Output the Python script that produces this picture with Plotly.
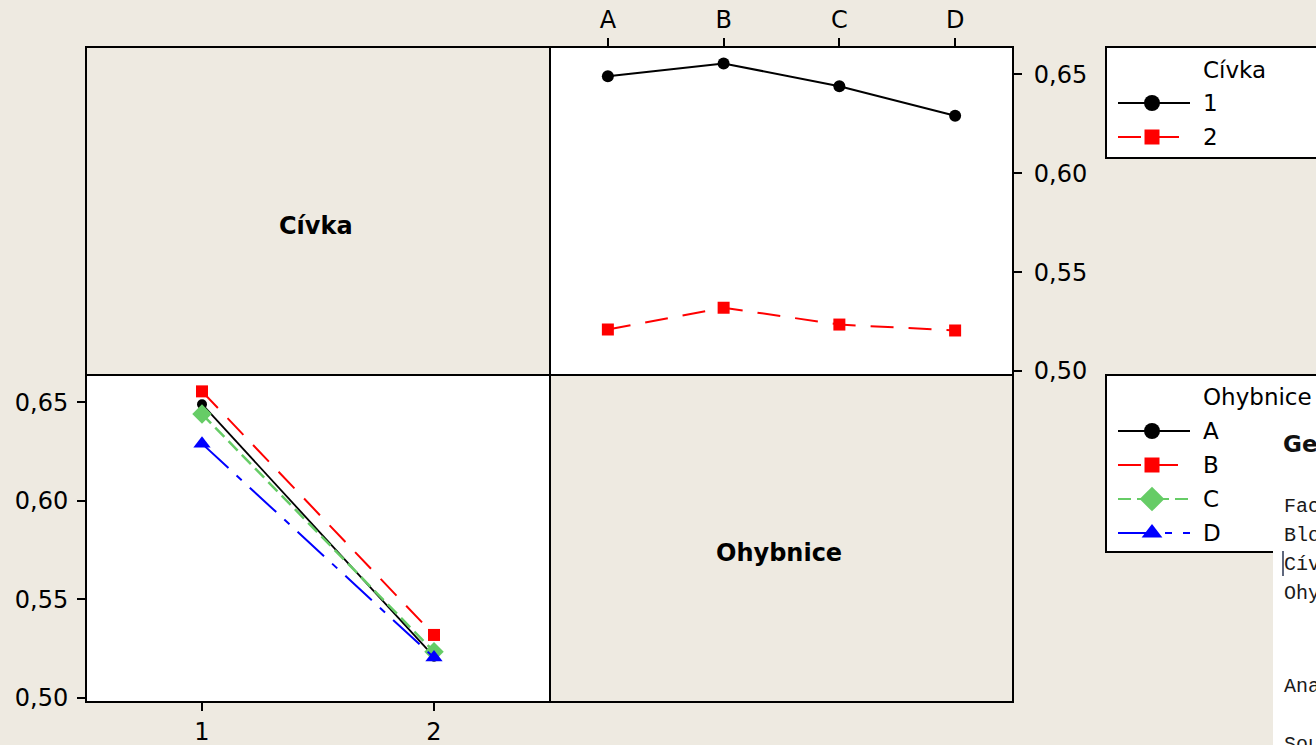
import plotly.graph_objects as go

W, H = 1316, 745

# Factor levels
civka_levels = ["1", "2"]
ohybnice_levels = ["A", "B", "C", "D"]

# Mean response for each Cívka level across Ohybnice A, B, C, D
mean_civka_1 = [0.649, 0.6555, 0.644, 0.629]
mean_civka_2 = [0.521, 0.532, 0.5235, 0.5205]

y_ticks = [0.50, 0.55, 0.60, 0.65]
y_range = [0.498, 0.6638]

BG = "#EEEAE1"
FONT = "DejaVu Sans, Verdana, sans-serif"
GREEN = "#66CC66"

civka_styles = {
    "1": dict(color="black", symbol="circle", dash="solid", size=12, width=2),
    "2": dict(color="red", symbol="square", dash="23px,15px", size=12, width=2),
}
ohybnice_styles = {
    "A": dict(color="black", symbol="circle", dash="solid", size=10, width=1.8),
    "B": dict(color="red", symbol="square", dash="23px,14px", size=12, width=2),
    "C": dict(color=GREEN, symbol="diamond", dash="13px,6px", size=15, width=2.5),
    "D": dict(color="blue", symbol="triangle-up", dash="36px,11px,7px,11px", size=15, width=2),
}


def px(x):
    return x / W


def py(y):
    return 1 - y / H


# panel edges (pixels)
LX0, MX, RX1 = 86, 550, 1013
TY0, MY, BY1 = 47, 375, 702

fig = go.Figure()

means = {"1": mean_civka_1, "2": mean_civka_2}

# Top-right: response vs Ohybnice, one line per Cívka level
for lvl in civka_levels:
    s = civka_styles[lvl]
    fig.add_trace(go.Scatter(
        x=ohybnice_levels, y=means[lvl], xaxis="x2", yaxis="y2",
        mode="lines+markers",
        line=dict(color=s["color"], dash=s["dash"], width=s["width"]),
        marker=dict(symbol=s["symbol"], size=s["size"], color=s["color"], opacity=1),
        showlegend=False, hoverinfo="skip",
    ))

# Bottom-left: response vs Cívka, one line per Ohybnice level
for k, lvl in enumerate(ohybnice_levels):
    s = ohybnice_styles[lvl]
    fig.add_trace(go.Scatter(
        x=civka_levels, y=[mean_civka_1[k], mean_civka_2[k]], xaxis="x", yaxis="y",
        mode="lines+markers",
        line=dict(color=s["color"], dash=s["dash"], width=s["width"]),
        marker=dict(symbol=s["symbol"], size=s["size"], color=s["color"], opacity=1),
        showlegend=False, hoverinfo="skip",
    ))


# Legend samples, drawn on a pixel-space overlay axis
def legend_sample(style, ycen, msize):
    fig.add_trace(go.Scatter(
        x=[1118, 1152, 1190], y=[ycen, ycen, ycen], xaxis="x3", yaxis="y3",
        mode="lines+markers",
        line=dict(color=style["color"], dash=style["dash"], width=2.2),
        marker=dict(symbol=style["symbol"], size=[0, msize, 0], color=style["color"],
                    opacity=1, line=dict(width=0)),
        showlegend=False, hoverinfo="skip",
    ))


legend_msize = {"circle": 16, "square": 15, "diamond": 19, "triangle-up": 18}
for i, lvl in enumerate(civka_levels):
    st = civka_styles[lvl]
    legend_sample(st, 103 + 34 * i, legend_msize[st["symbol"]])
for i, lvl in enumerate(ohybnice_levels):
    st = ohybnice_styles[lvl]
    legend_sample(st, 431 + 34 * i, legend_msize[st["symbol"]])

tickfont = dict(family=FONT, size=24, color="black")
common_axis = dict(showgrid=False, zeroline=False, showline=False, ticks="outside",
                   ticklen=8, tickwidth=2, tickcolor="black", tickfont=tickfont,
                   automargin=False)

fig.update_layout(
    width=W, height=H, autosize=False,
    margin=dict(l=0, r=0, t=0, b=0, pad=0),
    paper_bgcolor=BG, plot_bgcolor="rgba(0,0,0,0)",
    separators=",.",
    showlegend=False,
    xaxis=dict(domain=[px(LX0), px(MX)], anchor="y", type="category",
               range=[-0.5, 1.5], ticklabelstandoff=0, **common_axis),
    yaxis=dict(domain=[py(BY1), py(MY)], anchor="x", range=y_range,
               tickvals=y_ticks, tickformat=".2f", ticklabelstandoff=4, **common_axis),
    xaxis2=dict(domain=[px(MX), px(RX1)], anchor="y2", side="top", type="category",
                range=[-0.5, 3.5], ticklabelstandoff=0, **common_axis),
    yaxis2=dict(domain=[py(MY), py(TY0)], anchor="x2", side="right", range=y_range,
                tickvals=y_ticks, tickformat=".2f", ticklabelstandoff=7, **common_axis),
    xaxis3=dict(domain=[0, 1], range=[0, W], visible=False, fixedrange=True,
                automargin=False),
    yaxis3=dict(domain=[0, 1], range=[H, 0], visible=False, fixedrange=True,
                anchor="x3", automargin=False),
)

shapes = []
# white plotting areas
for (x0, y0, x1, y1) in [(LX0, MY, MX, BY1), (MX, TY0, RX1, MY)]:
    shapes.append(dict(type="rect", xref="paper", yref="paper", layer="below",
                       x0=px(x0), x1=px(x1), y0=py(y1), y1=py(y0),
                       fillcolor="white", line=dict(width=0)))
# legend boxes
for (y0, y1) in [(47, 158), (375, 552)]:
    shapes.append(dict(type="rect", xref="paper", yref="paper", layer="below",
                       x0=px(1106), x1=px(1340), y0=py(y1), y1=py(y0),
                       fillcolor="white", line=dict(color="black", width=2)))
# panel frames
for (x0, y0, x1, y1) in [(LX0, TY0, MX, MY), (MX, TY0, RX1, MY),
                         (LX0, MY, MX, BY1), (MX, MY, RX1, BY1)]:
    shapes.append(dict(type="rect", xref="paper", yref="paper", layer="above",
                       x0=px(x0), x1=px(x1), y0=py(y1), y1=py(y0),
                       line=dict(color="black", width=2)))
# session window partly covering the right side
shapes.append(dict(type="rect", xref="paper", yref="paper", layer="above",
                   x0=px(1273), x1=px(1340), y0=py(760), y1=py(414),
                   fillcolor="white", line=dict(width=0)))
shapes.append(dict(type="line", xref="paper", yref="paper", layer="above",
                   x0=px(1283), x1=px(1283), y0=py(576), y1=py(551),
                   line=dict(color="#2a3450", width=1.5)))
fig.update_layout(shapes=shapes)

annotations = []


def text(x, y, s, size=23, bold=False, xanchor="left", family=FONT, color="black"):
    annotations.append(dict(
        x=px(x), y=py(y), xref="paper", yref="paper", showarrow=False,
        xanchor=xanchor, yanchor="middle",
        text=f"<b>{s}</b>" if bold else s,
        font=dict(family=family, size=size, color=color),
    ))


# panel names on the diagonal
text(316, 226, "Cívka", size=24, bold=True, xanchor="center")
text(779, 553, "Ohybnice", size=24, bold=True, xanchor="center")

# legend titles and labels
text(1201, 70, "Cívka")
for i, lvl in enumerate(civka_levels):
    text(1201, 103 + 34 * i, lvl)
text(1201, 397, "Ohybnice")
for i, lvl in enumerate(ohybnice_levels):
    text(1201, 431 + 34 * i, lvl)

# session output text
text(1281, 444, "General Linear Model", size=23, bold=True, color="#111")
mono = "Liberation Mono, Courier New, monospace"
for yy, line in [(506, "Factor"), (535, "Blok"), (564, "Cívka"), (593, "Ohybnice"),
                 (686, "Analysis of Variance"), (744, "Source")]:
    text(1282, yy, line, size=20, family=mono, color="#1a1a1a")

fig.update_layout(annotations=annotations)

fig.write_html("out.html")
